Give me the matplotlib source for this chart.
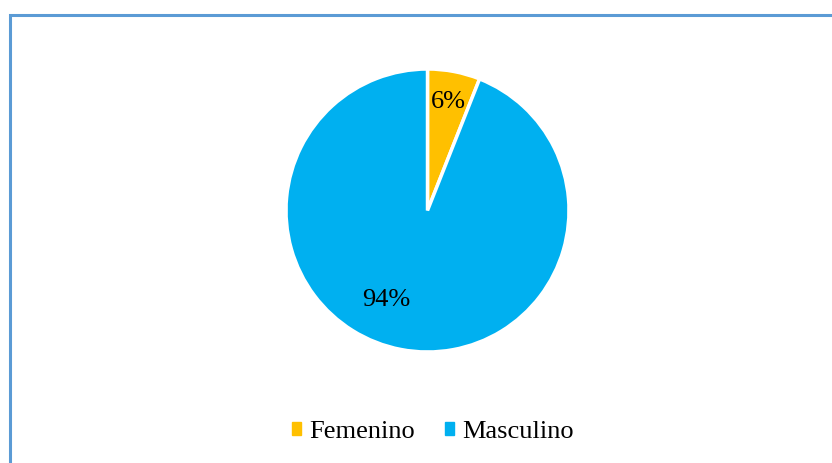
import matplotlib.pyplot as plt
from matplotlib.patches import Rectangle

labels = ['Femenino', 'Masculino']
values = [6, 94]
colors = ['#FFC000', '#00B0F0']

plt.rcParams['font.family'] = ['Liberation Serif', 'DejaVu Serif']

fig = plt.figure(figsize=(8.32, 4.63), dpi=100)

# chart border (only left and top edges fall inside the image)
fig.patches.append(Rectangle((10 / 832, -0.1), 1.0, 1 - 14.5 / 463 + 0.1,
                             transform=fig.transFigure, fill=False,
                             edgecolor='#5B9BD5', linewidth=2.2))

ax = fig.add_axes([286 / 832, 111 / 463, 283 / 832, 283 / 463])
wedges, texts, autotexts = ax.pie(
    values, colors=colors, startangle=90, counterclock=False,
    autopct='%1.0f%%', pctdistance=0.8,
    wedgeprops=dict(edgecolor='white', linewidth=2.5),
    textprops=dict(fontsize=19, color='black'))
ax.set_aspect('equal')
ax.set_xlim(-1, 1)
ax.set_ylim(-1, 1)

autotexts[0].set_position((0.15, 0.77))
autotexts[1].set_position((-0.29, -0.63))

handles = [Rectangle((0, 0), 1, 1, color=c) for c in colors]
fig.legend(handles, labels, loc='center', bbox_to_anchor=(433 / 832, 1 - 432 / 463),
           ncol=2, frameon=False, fontsize=19, handlelength=0.35, handleheight=0.35,
           handletextpad=0.3, columnspacing=1.15)

fig.savefig('out.png', dpi=100)
